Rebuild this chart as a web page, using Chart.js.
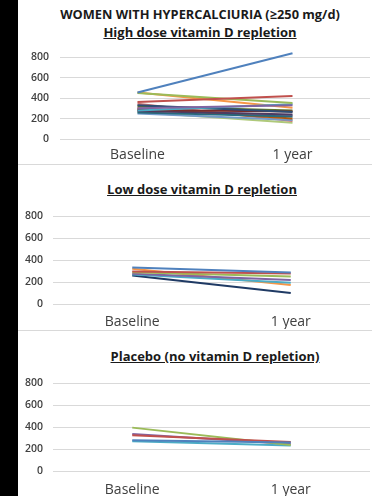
<!DOCTYPE html>
<html><head><meta charset="utf-8">
<script src="https://cdn.jsdelivr.net/npm/chart.js@4/dist/chart.umd.min.js"></script>
<style>
html,body{margin:0;padding:0;background:#fff;}
body{width:372px;height:496px;position:relative;overflow:hidden;font-family:"Open Sans","Noto Sans",sans-serif;}
#strip{position:absolute;left:0;top:0;width:18px;height:496px;background:#000;}
.sep{position:absolute;left:18px;width:354px;height:1px;background:#d9d9d9;}
.t{position:absolute;white-space:nowrap;font-weight:bold;color:#1a1a1a;transform:translate(-50%,-50%);}
.u{text-decoration:underline;text-underline-offset:1px;}
canvas{position:absolute;}
</style></head><body>
<div id="strip"></div>
<div class="sep" style="top:164px"></div>
<div class="sep" style="top:330px"></div>
<div class="t" style="left:200px;top:14px;font-size:12.8px;">WOMEN WITH HYPERCALCIURIA (≥250 mg/d)</div>
<div class="t u" style="left:200px;top:32px;font-size:13px;">High dose vitamin D repletion</div>
<div class="t u" style="left:202px;top:189px;font-size:13px;">Low dose vitamin D repletion</div>
<div class="t u" style="left:215px;top:356px;font-size:13px;">Placebo (no vitamin D repletion)</div>
<div style="position:absolute;left:18px;top:40px;width:354px;height:123px;"><canvas id="c1"></canvas></div>
<div style="position:absolute;left:18px;top:200px;width:354px;height:129px;"><canvas id="c2"></canvas></div>
<div style="position:absolute;left:18px;top:367px;width:354px;height:129px;"><canvas id="c3"></canvas></div>
<script>
const categories = ["Baseline", "1 year"];
const yTicks = [0, 200, 400, 600, 800];

// High dose vitamin D repletion: [baseline, 1 year]
const highDose = [
  [455, 840], [362, 420], [450, 352], [300, 330], [280, 340], [455, 305],
  [330, 265], [285, 270], [320, 280], [275, 240], [260, 220], [300, 200],
  [250, 185], [345, 175], [265, 160], [290, 230]
];
// Low dose vitamin D repletion
const lowDose = [
  [335, 290], [300, 282], [292, 255], [280, 222], [272, 198], [325, 176], [262, 105]
];
// Placebo
const placebo = [
  [283, 262], [329, 268], [398, 240], [341, 250], [274, 236]
];

const palette = ["#4F81BD","#C0504D","#9BBB59","#8064A2","#4BACC6","#F79646",
  "#2C4D75","#772C2A","#5F7530","#4D3B62","#276A7C","#B65708",
  "#729ACA","#CD7371","#AFC97A","#9983B5"];
const lowPalette = ["#4F81BD","#C0504D","#9BBB59","#8064A2","#4BACC6","#F79646","#1F3A64"];

function makeChart(id, series, colors, cfg){
  new Chart(document.getElementById(id), {
    type: 'line',
    data: {
      labels: categories,
      datasets: series.map((s,i)=>({data:s, borderColor:colors[i%colors.length], borderWidth:2,
        pointRadius:0, fill:false, tension:0, clip:false}))
    },
    options: {
      responsive:true, maintainAspectRatio:false, animation:false,
      layout:{padding:{top:cfg.padTop, right:2, left:0, bottom:0}},
      plugins:{legend:{display:false}, tooltip:{enabled:false}},
      scales:{
        x:{offset:true, grid:{display:false, drawTicks:false}, border:{display:false},
           ticks:{color:'#404040', padding:cfg.xPad, font:{family:'"Open Sans","Noto Sans",sans-serif', size:14}},
           afterFit:(s)=>{s.height=cfg.xH;}},
        y:{min:0, max:800, border:{display:false},
           afterBuildTicks:(s)=>{s.ticks=yTicks.map(v=>({value:v}));},
           grid:{color:'#d9d9d9', drawTicks:false, lineWidth:1},
           ticks:{color:'#404040', padding:cfg.yPad, font:{family:'"Open Sans","Noto Sans",sans-serif', size:10.5, weight:'600'}},
           afterFit:(s)=>{s.width=cfg.yW;}}
      }
    }
  });
}
makeChart('c1', highDose, palette, {padTop:7, xH:24, xPad:8, yW:42, yPad:11});
makeChart('c2', lowDose, lowPalette, {padTop:12, xH:24.5, xPad:9, yW:35, yPad:10});
makeChart('c3', placebo, palette, {padTop:12, xH:24.5, xPad:10, yW:35, yPad:10});
</script>
</body></html>
